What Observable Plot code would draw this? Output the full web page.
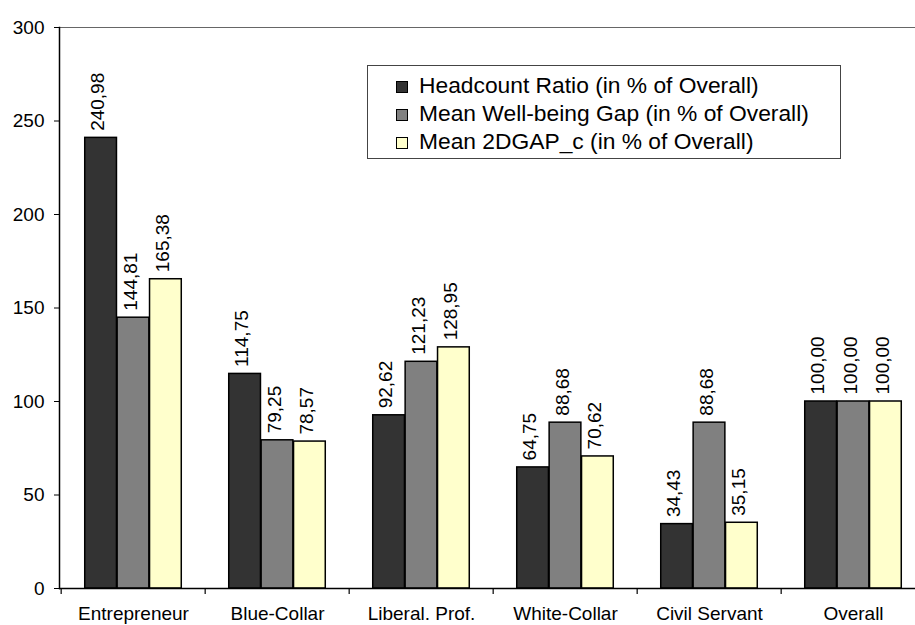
<!DOCTYPE html>
<html>
<head>
<meta charset="utf-8">
<script src="https://cdn.jsdelivr.net/npm/d3@7"></script>
<script src="https://cdn.jsdelivr.net/npm/@observablehq/plot@0.6"></script>
<style>
  html, body { margin: 0; padding: 0; background: #fff; overflow: hidden; }
  #wrap { position: relative; width: 915px; height: 625px; overflow: hidden; font-family: "Liberation Sans", Arial, sans-serif; }
  #wrap svg { max-width: none !important; }
  #legend { position: absolute; left: 367px; top: 65px; width: 472px; height: 92px; border: 1px solid #444; background: #fff; box-sizing: content-box; }
  #legend .row { position: absolute; left: 28px; height: 26px; display: flex; align-items: center; font-size: 22.8px; white-space: nowrap; color: #000; }
  #legend .sw { width: 10px; height: 10px; border: 1px solid #000; margin-right: 11px; margin-top: 4px; }
</style>
</head>
<body>
<div id="wrap"></div>
<script>
const categories = ["Entrepreneur", "Blue-Collar", "Liberal. Prof.", "White-Collar", "Civil Servant", "Overall"];
const seriesNames = ["Headcount Ratio (in % of Overall)", "Mean Well-being Gap (in % of Overall)", "Mean 2DGAP_c (in % of Overall)"];
const headcountRatio = [240.98, 114.75, 92.62, 64.75, 34.43, 100.00];
const meanWellbeingGap = [144.81, 79.25, 121.23, 88.68, 88.68, 100.00];
const mean2DGAPc = [165.38, 78.57, 128.95, 70.62, 35.15, 100.00];
const seriesColors = ["#333333", "#808080", "#FFFFCC"];
const yTicks = [0, 50, 100, 150, 200, 250, 300];

const seriesValues = [headcountRatio, meanWellbeingGap, mean2DGAPc];
const data = [];
seriesNames.forEach((s, i) => categories.forEach((c, j) => data.push({category: c, series: s, value: seriesValues[i][j]})));

const W = 927, H = 625, ML = 59, MR = 0, MT = 27, MB = 37;
const band = (W - ML - MR) / categories.length;
const bw = 32.4;
const inset = (band - bw) / 2;
const fmt = v => v.toFixed(2).replace(".", ",");

const marks = [
  Plot.ruleY([300], {stroke: "#666", strokeWidth: 1})
];
seriesNames.forEach((s, i) => {
  const sub = data.filter(d => d.series === s);
  marks.push(Plot.barY(sub, {x: "category", y: "value", fill: seriesColors[i], stroke: "#000", strokeWidth: 1.5, insetLeft: inset, insetRight: inset, dx: (i - 1) * bw}));
  marks.push(Plot.text(sub, {x: "category", y: "value", text: d => fmt(d.value), rotate: -90, textAnchor: "start", dx: (i - 1) * bw - 3, dy: -7, fontSize: 19, fill: "#000"}));
});
marks.push(
  Plot.ruleX(categories, {x: d => d, y1: 0, y2: 0, insetBottom: -6, dx: -band / 2, stroke: "#000", strokeWidth: 1.2}),
  Plot.ruleY([0], {stroke: "#000", strokeWidth: 1.5}),
  Plot.frame({anchor: "left", stroke: "#000", strokeWidth: 1.5}),
  Plot.axisY({ticks: yTicks, tickSize: 5, tickPadding: 10, fontSize: 19, label: null, tickFormat: d => String(d)}),
  Plot.axisX({tickSize: 0, tickPadding: 18, fontSize: 19, label: null})
);

const chart = Plot.plot({
  width: W, height: H,
  marginLeft: ML, marginRight: MR, marginTop: MT, marginBottom: MB,
  style: {fontFamily: "'Liberation Sans', Arial, sans-serif", fontSize: "19px", color: "#000", background: "#fff", overflow: "visible", maxWidth: "none"},
  x: {type: "band", domain: categories, padding: 0, axis: null},
  y: {domain: [0, 300], axis: null},
  marks
});
const wrap = document.getElementById("wrap");
wrap.appendChild(chart);

const legend = document.createElement("div");
legend.id = "legend";
seriesNames.forEach((s, i) => {
  const row = document.createElement("div");
  row.className = "row";
  row.style.top = (6 + i * 28) + "px";
  const sw = document.createElement("div");
  sw.className = "sw";
  sw.style.background = seriesColors[i];
  const t = document.createElement("span");
  t.textContent = s;
  row.appendChild(sw);
  row.appendChild(t);
  legend.appendChild(row);
});
wrap.appendChild(legend);
</script>
</body>
</html>
